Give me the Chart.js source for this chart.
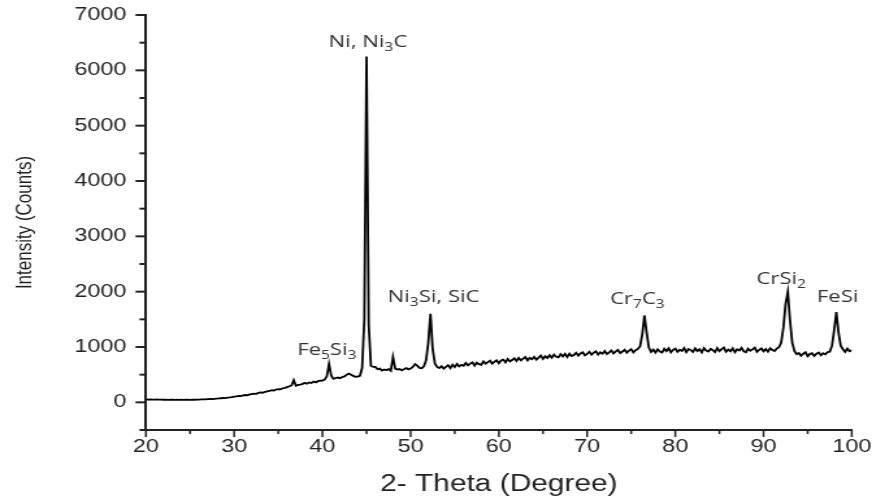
<!DOCTYPE html>
<html>
<head>
<meta charset="utf-8">
<script src="https://cdn.jsdelivr.net/npm/chart.js@4/dist/chart.umd.min.js"></script>
<style>
	html, body {margin: 0; padding: 0; background: #fff; overflow: hidden;}
	/* the plot is drawn narrow and widened horizontally, like the exported figure */
	#xrd {transform: scaleX(1.2996); transform-origin: 0 0;}
</style>
</head>
<body>
<canvas id="xrd" width="671" height="497"></canvas>
<script>
// scan: counts sampled every 0.25 deg from 20 to 100 deg 2-theta
var scanStart = 20;
var scanStep = 0.25;
var counts = [
	52, 49, 53, 50, 48, 51, 49, 50,
	47, 50, 46, 49, 47, 45, 48, 46,
	48, 45, 47, 49, 46, 48, 47, 50,
	49, 52, 55, 53, 57, 60, 58, 63,
	67, 70, 74, 78, 76, 84, 88, 94,
	102, 108, 115, 112, 124, 132, 128, 142,
	150, 158, 154, 170, 178, 174, 190, 198,
	205, 218, 214, 232, 240, 236, 255, 262,
	276, 290, 305, 400, 300, 316, 322, 334,
	352, 336, 360, 348, 376, 360, 382, 390,
	394, 410, 470, 690, 480, 425, 440, 448,
	436, 458, 468, 500, 520, 500, 478, 462,
	465, 480, 620, 1500, 6250, 1400, 660, 640,
	640, 598, 610, 575, 592, 584, 600, 570,
	820, 610, 592, 602, 578, 600, 618, 596,
	612, 640, 690, 662, 622, 615, 650, 760,
	1080, 1600, 960, 700, 640, 618, 652, 610,
	640, 672, 618, 680, 636, 694, 648, 676,
	660, 712, 668, 700, 724, 662, 716, 690,
	676, 738, 700, 726, 752, 698, 734, 760,
	708, 756, 772, 722, 784, 738, 764, 796,
	748, 802, 760, 790, 818, 758, 806, 780,
	822, 772, 808, 846, 786, 834, 800, 852,
	806, 862, 824, 812, 870, 830, 878, 818,
	880, 836, 856, 896, 844, 884, 904, 850,
	874, 912, 860, 898, 922, 864, 906, 880,
	928, 872, 904, 938, 884, 920, 946, 890,
	918, 950, 896, 934, 962, 904, 942, 966,
	1010, 1220, 1570, 1260, 990, 912, 952, 900,
	958, 918, 900, 968, 926, 976, 904, 950,
	972, 912, 952, 930, 982, 906, 962, 944,
	910, 974, 928, 958, 902, 980, 936, 918,
	968, 942, 908, 982, 924, 962, 990, 914,
	952, 922, 976, 904, 960, 938, 984, 920,
	906, 970, 932, 958, 988, 912, 948, 974,
	922, 962, 914, 978, 946, 928, 972, 995,
	1080, 1350, 1780, 1995, 1480, 1080, 930, 870,
	890, 842, 878, 904, 834, 872, 888, 838,
	880, 900, 850, 886, 866, 906, 915, 1020,
	1300, 1630, 1260, 1020, 960, 910, 972, 922,
	940
];

// phase labels: text (_n = subscript), 2-theta of centre, counts of baseline
var phaseNames = ['Fe_5Si_3', 'Ni, Ni_3C', 'Ni_3Si, SiC', 'Cr_7C_3', 'CrSi_2', 'FeSi'];
var phaseAngles = [40.5, 45.16, 52.6, 75.7, 92.0, 98.4];
var phaseCounts = [850, 6420, 1810, 1770, 2130, 1810];

var xTitle = '2- Theta (Degree)';
var yTitle = 'Intensity (Counts)';

var ink = '#222';

var points = counts.map(function(c, i) {
	return {x: scanStart + i * scanStep, y: c};
});

// axis tick marks pointing outward, long at labelled values
var tickMarks = {
	id: 'tickMarks',
	afterDraw: function(chart) {
		var ctx = chart.ctx;
		var area = chart.chartArea;
		var xs = chart.scales.x;
		var ys = chart.scales.y;
		ctx.save();
		ctx.strokeStyle = ink;
		ctx.lineWidth = 1.5;
		xs.ticks.forEach(function(t) {
			var px = xs.getPixelForValue(t.value);
			var len = t.value % 10 === 0 ? 7 : 4;
			ctx.beginPath();
			ctx.moveTo(px, area.bottom);
			ctx.lineTo(px, area.bottom + len);
			ctx.stroke();
		});
		ctx.lineWidth = 2;
		ys.ticks.forEach(function(t) {
			var py = ys.getPixelForValue(t.value);
			var len = t.value % 1000 === 0 ? 8 : 5;
			ctx.beginPath();
			ctx.moveTo(area.left, py);
			ctx.lineTo(area.left - len, py);
			ctx.stroke();
		});
		ctx.restore();
	}
};

function drawRich(ctx, text, cx, baseY) {
	var parts = text.split(/_(\d)/);
	var big = '17px "Open Sans", "Noto Sans", sans-serif';
	var small = '12px "Open Sans", "Noto Sans", sans-serif';
	var widths = parts.map(function(p, i) {
		ctx.font = i % 2 ? small : big;
		return ctx.measureText(p).width;
	});
	var total = widths.reduce(function(a, b) { return a + b; }, 0);
	var x = cx - total / 2;
	parts.forEach(function(p, i) {
		ctx.font = i % 2 ? small : big;
		ctx.fillText(p, x, i % 2 ? baseY + 4 : baseY);
		x += widths[i];
	});
}

var phaseLabels = {
	id: 'phaseLabels',
	afterDatasetsDraw: function(chart) {
		var ctx = chart.ctx;
		var xs = chart.scales.x;
		var ys = chart.scales.y;
		ctx.save();
		ctx.fillStyle = '#333';
		ctx.textAlign = 'left';
		ctx.textBaseline = 'alphabetic';
		phaseNames.forEach(function(name, i) {
			drawRich(ctx, name, xs.getPixelForValue(phaseAngles[i]), ys.getPixelForValue(phaseCounts[i]));
		});
		ctx.restore();
	}
};

Chart.defaults.font.family = '"Liberation Sans", Arial, sans-serif';
Chart.defaults.color = ink;

new Chart(document.getElementById('xrd'), {
	type: 'line',
	data: {
		datasets: [{
			data: points,
			borderColor: '#000',
			borderWidth: 1.8,
			pointRadius: 0,
			tension: 0,
			fill: false
		}]
	},
	options: {
		responsive: false,
		animation: false,
		devicePixelRatio: 1,
		layout: {padding: {top: 15, right: 15.6, left: 0, bottom: 0}},
		plugins: {legend: {display: false}, tooltip: {enabled: false}},
		scales: {
			x: {
				type: 'linear',
				min: 20,
				max: 100,
				afterFit: function(scale) {
					scale.height = 67;
					scale.paddingLeft = 0;
					scale.paddingRight = 0;
				},
				grid: {display: false, drawTicks: false},
				border: {display: true, color: ink, width: 2},
				ticks: {
					stepSize: 5,
					autoSkip: false,
					maxRotation: 0,
					padding: 6,
					font: {size: 18},
					callback: function(v) { return v % 10 === 0 ? v : ''; }
				},
				title: {
					display: true,
					text: xTitle,
					font: {size: 23, lineHeight: 1},
					padding: {top: 0, bottom: 1}
				}
			},
			y: {
				type: 'linear',
				min: -500,
				max: 7000,
				afterFit: function(scale) {
					scale.width = 112.3;
					scale.paddingTop = 0;
					scale.paddingBottom = 0;
				},
				grid: {display: false, drawTicks: false},
				border: {display: true, color: ink, width: 2},
				ticks: {
					stepSize: 500,
					autoSkip: false,
					padding: 15,
					font: {size: 18},
					callback: function(v) { return v % 1000 === 0 ? v : ''; }
				},
				title: {
					display: true,
					text: yTitle,
					font: {size: 17},
					padding: {top: 9, bottom: 0}
				}
			}
		}
	},
	plugins: [tickMarks, phaseLabels]
});
</script>
</body>
</html>
